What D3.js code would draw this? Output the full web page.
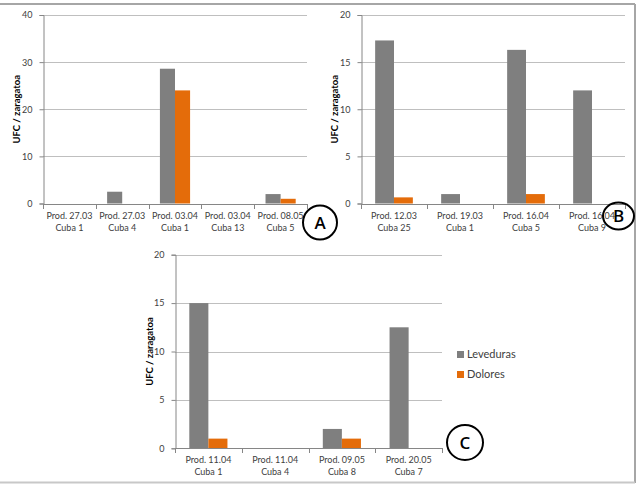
<!DOCTYPE html>
<html><head><meta charset="utf-8">
<script src="https://cdn.jsdelivr.net/npm/d3@7"></script>
<style>
body{margin:0;background:#fff;}
svg{display:block;font-family:Lato,"Open Sans",sans-serif;}
</style></head><body>
<svg id="c" width="639" height="484"></svg>
<script>
// Panel A
const catsA = [["Prod. 27.03","Cuba 1"],["Prod. 27.03","Cuba 4"],["Prod. 03.04","Cuba 1"],["Prod. 03.04","Cuba 13"],["Prod. 08.05","Cuba 5"]];
const levA = [0, 2.5, 28.6, 0, 2];
const dolA = [0, 0, 24, 0, 1];
const ticksA = [0, 10, 20, 30, 40];
// Panel B
const catsB = [["Prod. 12.03","Cuba 25"],["Prod. 19.03","Cuba 1"],["Prod. 16.04","Cuba 5"],["Prod. 16.04","Cuba 9"]];
const levB = [17.3, 1, 16.3, 12];
const dolB = [0.65, 0, 1, 0];
const ticksB = [0, 5, 10, 15, 20];
// Panel C
const catsC = [["Prod. 11.04","Cuba 1"],["Prod. 11.04","Cuba 4"],["Prod. 09.05","Cuba 8"],["Prod. 20.05","Cuba 7"]];
const levC = [15, 0, 2, 12.5];
const dolC = [1, 0, 1, 0];
const ticksC = [0, 5, 10, 15, 20];
const seriesNames = ["Leveduras", "Dolores"];
const colors = ["#7f7f7f", "#e46c0a"];
const yTitle = "UFC / zaragatoa";

const svg = d3.select("#c");

// outer frame
svg.append("line").attr("x1",0).attr("x2",635).attr("y1",4).attr("y2",4).attr("stroke","#a6a6a6").attr("stroke-width",2);
svg.append("line").attr("x1",635).attr("x2",635).attr("y1",4).attr("y2",483).attr("stroke","#a6a6a6").attr("stroke-width",2);
svg.append("line").attr("x1",0).attr("x2",635).attr("y1",482.5).attr("y2",482.5).attr("stroke","#c8c8c8").attr("stroke-width",2);

function panel(cfg){
  const {cats, lev, dol, ticks, x0, x1, yTop, yBot, titleX, letter, cx, cy, rx, ry} = cfg;
  const g = svg.append("g");
  const x = d3.scaleBand().domain(d3.range(cats.length)).range([x0, x1]);
  const y = d3.scaleLinear().domain([0, d3.max(ticks)]).range([yBot, yTop]);
  const bw = x.bandwidth() / 3.5;
  // gridlines
  g.selectAll(".grid").data(ticks.filter(t => t > 0)).join("line")
    .attr("x1", x0).attr("x2", x1).attr("y1", d => Math.round(y(d))+0.5).attr("y2", d => Math.round(y(d))+0.5)
    .attr("stroke", "#bfbfbf").attr("stroke-width", 1);
  // bars
  const series = [lev, dol];
  series.forEach((vals, si) => {
    g.selectAll(".b"+si).data(vals).join("rect")
      .attr("x", (d,i) => x(i) + 0.75*bw + si*bw)
      .attr("width", bw)
      .attr("y", d => y(d))
      .attr("height", d => y(0) - y(d))
      .attr("fill", colors[si]);
  });
  // y axis
  const ya = d3.axisLeft(y).tickValues(ticks).tickSize(4).tickPadding(7).tickFormat(d3.format("d"));
  const yg = g.append("g").attr("transform", `translate(${x0+0.5},0)`).call(ya);
  yg.select(".domain").attr("stroke", "#868686");
  yg.selectAll(".tick line").attr("stroke", "#868686");
  yg.selectAll("text").attr("fill", "#404040").style("font-size", "9px").style("font-family","Lato,'Open Sans',sans-serif");
  // x axis
  const xBounds = d3.range(cats.length + 1).map(i => x0 + i * x.step());
  g.append("line").attr("x1", x0).attr("x2", x1).attr("y1", Math.round(y(0))+0.5).attr("y2", Math.round(y(0))+0.5).attr("stroke","#868686");
  g.selectAll(".xt").data(xBounds).join("line")
    .attr("x1", d => Math.round(d)+0.5).attr("x2", d => Math.round(d)+0.5)
    .attr("y1", Math.round(y(0))).attr("y2", Math.round(y(0))+5).attr("stroke","#868686");
  const lab = g.selectAll(".xl").data(cats).join("text")
    .attr("x", (d,i) => x(i) + x.bandwidth()/2)
    .attr("y", y(0) + 15)
    .attr("text-anchor", "middle").attr("fill", "#404040").style("font-size","9px");
  lab.append("tspan").attr("x", (d,i) => x(i) + x.bandwidth()/2).text(d => d[0]);
  lab.append("tspan").attr("x", (d,i) => x(i) + x.bandwidth()/2).attr("dy", 12).text(d => d[1]);
  // y title
  g.append("text").attr("transform", `translate(${titleX},${(yTop+yBot)/2}) rotate(-90)`)
    .attr("text-anchor","middle").attr("dy","0.35em").style("font-size","9.5px").style("font-weight","bold").attr("fill","#000").text(yTitle);
  // letter circle
  g.append("ellipse").attr("cx", cx).attr("cy", cy).attr("rx", rx).attr("ry", ry)
    .attr("fill", "none").attr("stroke", "#000").attr("stroke-width", 2);
  g.append("text").attr("x", cx).attr("y", cy).attr("dy","0.36em").attr("text-anchor","middle")
    .style("font-size","17px").style("font-weight","600").style("font-family","'Open Sans',sans-serif").attr("fill","#000").text(letter);
}

panel({cats: catsA, lev: levA, dol: dolA, ticks: ticksA, x0: 43, x1: 307, yTop: 15, yBot: 203.5, titleX: 17, letter: "A", cx: 320, cy: 222.5, rx: 17, ry: 17});
panel({cats: catsB, lev: levB, dol: dolB, ticks: ticksB, x0: 361, x1: 625, yTop: 15, yBot: 203.5, titleX: 335, letter: "B", cx: 618.5, cy: 216, rx: 15.5, ry: 13.5});
panel({cats: catsC, lev: levC, dol: dolC, ticks: ticksC, x0: 175, x1: 442, yTop: 254.7, yBot: 448.3, titleX: 150, letter: "C", cx: 465, cy: 442.5, rx: 18, ry: 17.5});

// legend
const leg = svg.append("g");
seriesNames.forEach((n, i) => {
  leg.append("rect").attr("x", 457).attr("y", 351 + i*20).attr("width", 7).attr("height", 7).attr("fill", colors[i]);
  leg.append("text").attr("x", 467).attr("y", 354.5 + i*20).attr("dy","0.35em").style("font-size","11px").attr("fill","#404040").text(n);
});
</script>
</body></html>
